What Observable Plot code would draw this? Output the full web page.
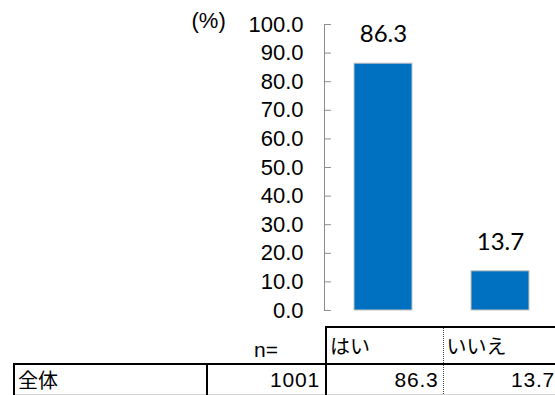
<!DOCTYPE html>
<html>
<head>
<meta charset="utf-8">
<script src="https://cdn.jsdelivr.net/npm/d3@7"></script>
<script src="https://cdn.jsdelivr.net/npm/@observablehq/plot@0.6"></script>
<style>
  html, body { margin: 0; padding: 0; background: #fff; }
  #wrap { position: relative; width: 555px; height: 395px; overflow: hidden; background: #fff; }
  #chart { position: absolute; left: 0; top: 0; }
  #tbl { position: absolute; left: 13px; top: 326px; border-collapse: collapse; table-layout: fixed; width: 542px;
         font-family: "Liberation Sans", Arial, "Noto Sans CJK JP", sans-serif; font-size: 21px; color: #000; }
  #tbl td { padding: 0 3px; overflow: hidden; white-space: nowrap; }
  #tbl tr.head td { height: 35px; vertical-align: middle; }
  #tbl tr.row td { height: 29px; vertical-align: middle; border-top: 2px solid #000; border-bottom: 1px solid #d4d4d4; }
  #tbl td.num { letter-spacing: 0.8px; }
  .jp { font-family: "Noto Sans CJK JP", sans-serif; font-size: 20px; }
</style>
</head>
<body>
<div id="wrap">
  <div id="chart"></div>
  <table id="tbl">
    <colgroup><col style="width:193px"><col style="width:119px"><col style="width:117px"><col style="width:113px"></colgroup>
    <tr class="head">
      <td></td>
      <td id="nlabel" style="text-align:center;vertical-align:bottom;padding-bottom:1px"></td>
      <td id="h0" class="jp" style="border-top:2px solid #000;border-left:2px solid #000;"></td>
      <td id="h1" class="jp" style="border-top:2px solid #000;border-left:1px dotted #444;"></td>
    </tr>
    <tr class="row">
      <td id="rowlabel" class="jp" style="border-left:2px solid #000;"></td>
      <td id="nval" class="num" style="text-align:right;border-left:2px solid #000;padding-right:5px"></td>
      <td id="v0" class="num" style="text-align:right;border-left:2px solid #000;padding-right:4px"></td>
      <td id="v1" class="num" style="text-align:right;border-left:1px dotted #444;padding-right:1px"></td>
    </tr>
  </table>
</div>
<script>
// ---- data ----
const categories = ["はい", "いいえ"];
const values = [86.3, 13.7];
const yTicks = [0, 10, 20, 30, 40, 50, 60, 70, 80, 90, 100];
const unitLabel = "(%)";
const nLabel = "n=";
const rowLabel = "全体";
const nValue = 1001;

const data = categories.map((c, i) => ({cat: c, val: values[i]}));

const tickShape = { draw(ctx, l) { ctx.moveTo(0, 0); ctx.lineTo(0, -l); } };

const chart = Plot.plot({
  width: 555,
  height: 322,
  marginTop: 24,
  marginBottom: 12,
  marginLeft: 324,
  marginRight: 0,
  style: { fontFamily: "'Liberation Sans', Arial, sans-serif", fontSize: "22px", background: "white", color: "black", overflow: "visible" },
  x: { domain: categories, paddingInner: 0.508, paddingOuter: 0.233, align: 0.527, axis: null },
  y: { domain: [0, 100], axis: null },
  marks: [
    Plot.frame({ anchor: "left", stroke: "#8c8c8c", strokeWidth: 1 }),
    Plot.barY(data, { x: "cat", y: "val", fill: "#0070C0", stroke: "#c4c4c4", strokeWidth: 1 }),
    Plot.text(data, { x: "cat", y: "val", text: d => d.val.toFixed(1), dy: -29, lineAnchor: "middle",
      fontFamily: "Lato, 'Open Sans', sans-serif", fontSize: 24, fill: "black" }),
    Plot.axisY({ ticks: yTicks, tickFormat: d => d.toFixed(1), tickSize: 0, tickPadding: 21,
      fill: "black", label: null, fontSize: 22, style: "letter-spacing:1.2px" }),
    Plot.vector(yTicks, { y: d => d, frameAnchor: "left", rotate: 90, length: 6, anchor: "start",
      shape: tickShape, stroke: "#8c8c8c", strokeWidth: 1 }),
    Plot.text([unitLabel], { frameAnchor: "top-left", dx: -133, dy: -4, textAnchor: "start", lineAnchor: "middle",
      fontSize: 22, fill: "black" })
  ]
});
document.getElementById("chart").appendChild(chart);

document.getElementById("nlabel").textContent = nLabel;
document.getElementById("h0").textContent = categories[0];
document.getElementById("h1").textContent = categories[1];
document.getElementById("rowlabel").textContent = rowLabel;
document.getElementById("nval").textContent = String(nValue);
document.getElementById("v0").textContent = values[0].toFixed(1);
document.getElementById("v1").textContent = values[1].toFixed(1);
</script>
</body>
</html>
